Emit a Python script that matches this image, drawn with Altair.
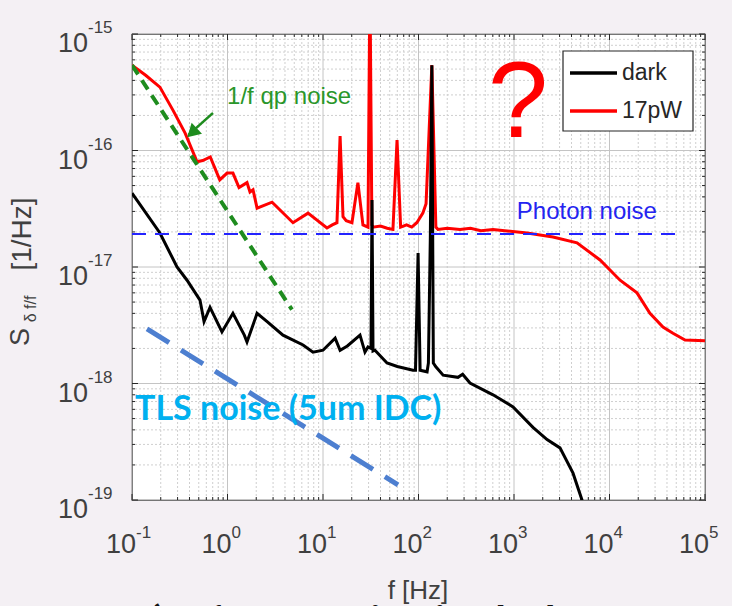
import altair as alt
import pandas as pd

# ---------------- data ----------------
series_names = ["dark", "17pW"]
series_colors = ["#000000", "#ff0000"]

dark_f = [0.1, 0.196, 0.296, 0.377, 0.515, 0.568, 0.656, 0.875, 1.14, 1.5, 1.6, 2.04, 2.6,
          3.81, 6.18, 7.86, 10, 13.4, 15.1, 18, 24.4, 27.5, 29.6, 31.8, 32.6, 33.4, 35, 46.8,
          60, 87.5, 93, 99, 104, 123, 127, 133, 138, 143, 152, 181, 259, 290, 346, 603, 977,
          1580, 2220, 3030, 4150, 5150, 5600]
dark_s = [4.3e-17, 1.96e-17, 1.0e-17, 7.7e-18, 5.2e-18, 3.4e-18, 4.5e-18, 2.77e-18, 4.0e-18,
          2.6e-18, 2.27e-18, 4.0e-18, 3.4e-18, 2.6e-18, 2.14e-18, 1.86e-18, 1.93e-18, 2.45e-18,
          1.93e-18, 2.1e-18, 2.6e-18, 1.86e-18, 2.06e-18, 2.0e-18, 3.76e-17, 1.9e-18, 1.93e-18,
          1.5e-18, 1.4e-18, 1.3e-18, 1.3e-18, 1.32e-17, 1.3e-18, 1.26e-18, 1.5e-18, 1.8e-17,
          5.4e-16, 1.5e-18, 1.39e-18, 1.18e-18, 1.13e-18, 1.2e-18, 1.01e-18, 8.0e-19, 6.3e-19,
          4.2e-19, 3.3e-19, 2.8e-19, 1.7e-19, 1.0e-19, 7e-20]

pw_f = [0.1, 0.14, 0.196, 0.27, 0.36, 0.48, 0.55, 0.66, 0.83, 0.99, 1.14, 1.32, 1.6, 1.72,
        1.85, 2.04, 2.93, 4.85, 6.97, 11.0, 12.5, 14.0, 15.1, 16.2, 17.5, 20.1, 23.2, 26.2,
        29.6, 31.0, 32.5, 33.4, 40, 47, 54, 59.6, 65, 75, 85, 96, 111, 120, 138, 152, 160,
        200, 272, 350, 450, 603, 800, 1370, 2560, 4570, 7960, 12900, 19400, 26500, 36300,
        46200, 61800, 100000]
pw_s = [5.4e-16, 4.4e-16, 3.5e-16, 2.2e-16, 1.41e-16, 8.0e-17, 8.2e-17, 8.8e-17, 5.6e-17,
        6.4e-17, 6.4e-17, 4.8e-17, 5.3e-17, 4.4e-17, 4.6e-17, 3.2e-17, 3.6e-17, 2.4e-17,
        2.9e-17, 2.16e-17, 2.3e-17, 2.4e-17, 1.33e-16, 2.7e-17, 2.5e-17, 2.4e-17, 5.3e-17,
        2.3e-17, 2.2e-17, 3e-15, 2.3e-17, 2.2e-17, 2.25e-17, 2.15e-17, 2.1e-17, 1.23e-16,
        2.2e-17, 2.3e-17, 2.2e-17, 2.4e-17, 2.9e-17, 3.5e-17, 5.4e-16, 2.2e-17, 2.1e-17,
        2.15e-17, 2.1e-17, 2.15e-17, 2.05e-17, 2.1e-17, 2.05e-17, 1.96e-17, 1.81e-17,
        1.61e-17, 1.15e-17, 7.7e-18, 6.0e-18, 4.0e-18, 3.05e-18, 2.7e-18, 2.36e-18, 2.33e-18]

photon_f = [0.1, 5.1e4]
photon_s = [1.92e-17, 1.92e-17]
qp_f = [0.1, 4.73]
qp_s = [5.4e-16, 4.3e-18]
tls_f = [0.1436, 61]
tls_s = [2.94e-18, 1.35e-19]
arrow_f = [0.705, 0.39]
arrow_s = [2.1e-16, 1.36e-16]

x_ticks = [0.1, 1, 10, 100, 1000, 10000, 100000]
x_exps = ["-1", "0", "1", "2", "3", "4", "5"]
y_ticks = [1e-19, 1e-18, 1e-17, 1e-16, 1e-15]
y_exps = ["-19", "-18", "-17", "-16", "-15"]

W, H = 573, 466
GRAY = "#404040"
FONT = "Liberation Sans"

xs = alt.Scale(type="log", domain=[0.1, 1e5], nice=False)
ys = alt.Scale(type="log", domain=[1e-19, 1e-15], nice=False)

minor_x = [k * 10.0 ** d for d in range(-1, 5) for k in range(2, 10)]
minor_y = [k * 10.0 ** d for d in range(-19, -15) for k in range(2, 10)]

one = pd.DataFrame({"a": [0]})
XE = dict(scale=xs, axis=None)
YE = dict(scale=ys, axis=None)

# ---------------- grid ----------------
gx_minor = alt.Chart(pd.DataFrame({"f": minor_x})).mark_rule(
    color="#cfcfcf", strokeWidth=1, strokeDash=[2, 2]).encode(x=alt.X("f:Q", **XE))
gy_minor = alt.Chart(pd.DataFrame({"s": minor_y})).mark_rule(
    color="#cfcfcf", strokeWidth=1, strokeDash=[2, 2]).encode(y=alt.Y("s:Q", **YE))
gx_major = alt.Chart(pd.DataFrame({"f": x_ticks})).mark_rule(
    color="#c4c4c4", strokeWidth=1).encode(x=alt.X("f:Q", **XE))
gy_major = alt.Chart(pd.DataFrame({"s": y_ticks})).mark_rule(
    color="#c4c4c4", strokeWidth=1).encode(y=alt.Y("s:Q", **YE))

# inward ticks on all four sides
tick_layers = []
for vals, ln in ((x_ticks, 6), (minor_x, 3)):
    d = pd.DataFrame({"f": vals})
    tick_layers.append(alt.Chart(d).mark_rule(color="#262626", strokeWidth=1).encode(
        x=alt.X("f:Q", **XE), y=alt.value(H), y2=alt.value(H - ln)))
    tick_layers.append(alt.Chart(d).mark_rule(color="#262626", strokeWidth=1).encode(
        x=alt.X("f:Q", **XE), y=alt.value(0), y2=alt.value(ln)))
for vals, ln in ((y_ticks, 6), (minor_y, 3)):
    d = pd.DataFrame({"s": vals})
    tick_layers.append(alt.Chart(d).mark_rule(color="#262626", strokeWidth=1).encode(
        y=alt.Y("s:Q", **YE), x=alt.value(0), x2=alt.value(ln)))
    tick_layers.append(alt.Chart(d).mark_rule(color="#262626", strokeWidth=1).encode(
        y=alt.Y("s:Q", **YE), x=alt.value(W), x2=alt.value(W - ln)))

# ---------------- data lines ----------------
curves = pd.concat([
    pd.DataFrame({"f": pw_f, "s": pw_s, "series": "17pW", "o": list(range(len(pw_f)))}),
    pd.DataFrame({"f": dark_f, "s": dark_s, "series": "dark", "o": list(range(len(dark_f)))}),
])
lines = alt.Chart(curves).mark_line(strokeWidth=3, clip=True).encode(
    x=alt.X("f:Q", **XE),
    y=alt.Y("s:Q", **YE),
    color=alt.Color("series:N", scale=alt.Scale(domain=series_names, range=series_colors), legend=None),
    order="o:Q",
    detail="series:N",
)


def dashed(fv, sv, color, width, dash):
    return alt.Chart(pd.DataFrame({"f": fv, "s": sv})).mark_line(
        color=color, strokeWidth=width, strokeDash=dash, clip=True).encode(
        x=alt.X("f:Q", **XE), y=alt.Y("s:Q", **YE))


photon = dashed(photon_f, photon_s, "#2424ff", 2.2, [14, 9])
qp = dashed(qp_f, qp_s, "#1e8c1e", 4, [11, 7])
tls = dashed(tls_f, tls_s, "#4d7fd0", 5, [26, 14])
arrow = dashed(arrow_f, arrow_s, "#1e8c1e", 2.5, [1, 0])
arrow_head = alt.Chart(pd.DataFrame({"f": [0.425], "s": [1.42e-16]})).mark_point(
    shape="triangle-up", filled=True, color="#1e8c1e", size=230, angle=227, opacity=1).encode(
    x=alt.X("f:Q", **XE), y=alt.Y("s:Q", **YE))


# ---------------- annotations (data coords) ----------------
def note(f, s, text, color, size, align="left", weight="normal", font=FONT):
    return alt.Chart(pd.DataFrame({"f": [f], "s": [s], "t": [text]})).mark_text(
        align=align, baseline="alphabetic", color=color, fontSize=size, fontWeight=weight,
        font=font).encode(x=alt.X("f:Q", **XE), y=alt.Y("s:Q", **YE), text="t:N")


n_qp = note(0.99, 2.5e-16, "1/f qp noise", "#2a962a", 24)
n_ph = note(1070, 2.58e-17, "Photon noise", "#2424f0", 24)
n_q = note(1100, 1.31e-16, "?", "#ff0000", 108, align="center")
n_tls = note(0.1075, 4.86e-19, "TLS noise (5um IDC)", "#00b0f0", 34, weight="bold", font="Lato")

# ---------------- tick labels ----------------
xt = pd.DataFrame({"f": x_ticks, "e": x_exps})
xl_base = alt.Chart(xt).mark_text(align="right", baseline="alphabetic", dx=4, fontSize=27,
                                  color=GRAY, font=FONT).encode(
    x=alt.X("f:Q", **XE), y=alt.value(H + 53), text=alt.value("10"))
xl_exp = alt.Chart(xt).mark_text(align="left", baseline="alphabetic", dx=4, fontSize=17,
                                 color=GRAY, font=FONT).encode(
    x=alt.X("f:Q", **XE), y=alt.value(H + 38), text="e:N")

yt = pd.DataFrame({"s": y_ticks, "e": y_exps})
yl_base = alt.Chart(yt).mark_text(align="right", baseline="alphabetic", dy=18, fontSize=27,
                                  color=GRAY, font=FONT).encode(
    y=alt.Y("s:Q", **YE), x=alt.value(-44), text=alt.value("10"))
yl_exp = alt.Chart(yt).mark_text(align="left", baseline="alphabetic", dy=-1, fontSize=17,
                                 color=GRAY, font=FONT).encode(
    y=alt.Y("s:Q", **YE), x=alt.value(-44), text="e:N")


# ---------------- axis titles ----------------
def ptext(x, y, text, size, color=GRAY, angle=0, align="center", baseline="alphabetic",
          weight="normal", font=FONT):
    return alt.Chart(one).mark_text(align=align, baseline=baseline, fontSize=size, color=color,
                                    angle=angle, fontWeight=weight, font=font).encode(
        x=alt.value(x), y=alt.value(y), text=alt.value(text))


x_title = ptext(418 - 132, 599 - 34, "f [Hz]", 26)
y_S = ptext(29 - 132, 337 - 34, "S", 27, angle=270)
y_sub = ptext(36 - 132, 309 - 34, "δ f/f", 16, angle=270)
y_unit = ptext(31 - 132, 234 - 34, "[1/Hz]", 28, angle=270)
bottom = ptext(128 - 132, 638 - 34, "1) 1/f QP noise in dark", 44, color="#111111",
               align="left", weight="bold", font="Lato")

# ---------------- legend ----------------
leg_box = alt.Chart(one).mark_rect(fill="white", stroke="#262626", strokeWidth=1.2).encode(
    x=alt.value(431), x2=alt.value(561), y=alt.value(17), y2=alt.value(97))
leg_items = []
for i, (nm, col) in enumerate(zip(series_names, series_colors)):
    yy = 39 + i * 38
    leg_items.append(alt.Chart(one).mark_rule(color=col, strokeWidth=3.5).encode(
        x=alt.value(438), x2=alt.value(485), y=alt.value(yy)))
    leg_items.append(ptext(490, yy, nm, 23, color="#262626", align="left", baseline="middle"))

chart = alt.layer(
    gx_minor, gy_minor, gx_major, gy_major, *tick_layers,
    lines, photon, qp, tls, arrow, arrow_head,
    n_qp, n_ph, n_q, n_tls,
    leg_box, *leg_items,
    xl_base, xl_exp, yl_base, yl_exp,
    x_title, y_S, y_sub, y_unit, bottom,
).properties(
    width=W, height=H,
    padding={"left": 132, "top": 34, "right": 27, "bottom": 106},
    autosize="none",
    background="#f4f0f4",
).configure_view(fill="white", stroke="#262626", strokeWidth=1.2)

chart.save("out.html", embed_options={"renderer": "svg", "actions": False})
